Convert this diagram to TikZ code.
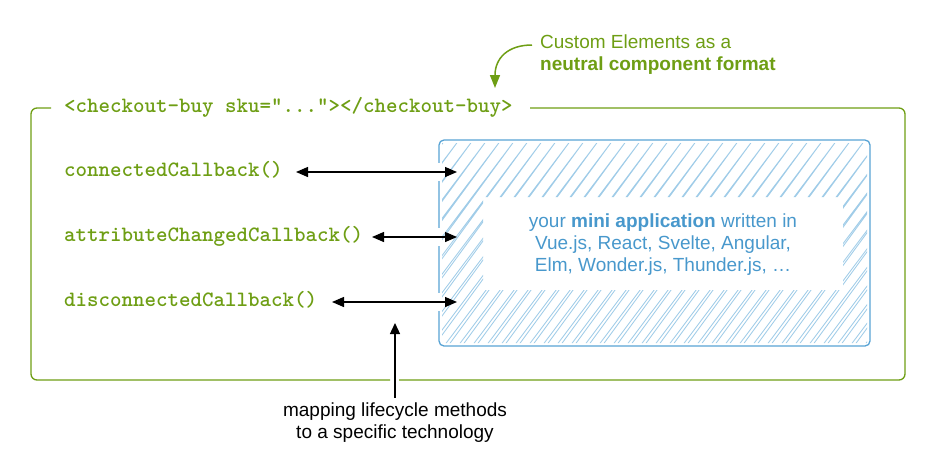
\documentclass[tikz,border=0pt]{standalone}
\usepackage{fontspec}
\setmainfont{Liberation Sans}
\usetikzlibrary{arrows.meta,calc}
\definecolor{cegreen}{RGB}{110,158,20}
\definecolor{appblue}{RGB}{88,163,212}
\definecolor{apptext}{RGB}{72,152,204}
\definecolor{hatchblue}{RGB}{160,204,232}
\tikzset{
  code/.style={font=\ttfamily\bfseries\fontsize{21.9}{24}\selectfont, text=cegreen, inner sep=0pt, anchor=base west},
  sans/.style={font=\fontsize{19}{22}\selectfont, inner sep=0pt},
  frame/.style={draw=cegreen, line width=1.3pt, rounded corners=6pt},
  dbl/.style={draw=black, line width=1.3pt, {Triangle[length=12pt,width=10pt]}-{Triangle[length=12pt,width=10pt]}},
  uparrow/.style={draw=black, line width=1.3pt, -{Triangle[length=11pt,width=10pt]}},
  greenarrow/.style={draw=cegreen, line width=1.5pt, -{Triangle[length=13pt,width=10pt]}},
  hatchline/.style={draw=hatchblue, line width=0.85pt, line join=round},
}
\begin{document}
\begin{tikzpicture}[x=1pt,y=-1pt]
\useasboundingbox (0,0) rectangle (935,475);

% outer custom element frame
\draw[frame] (51,108) -- (31,108) -- (31,380) -- (390,380);
\draw[frame] (399,380) -- (905,380) -- (905,108) -- (530,108);
\node[code] (title) at (64,112.5) {<checkout-buy sku="..."></checkout-buy>};

% annotation top right
\node[sans, text=cegreen, align=left, anchor=west] (ce) at (540,55) {Custom Elements as a\\\textbf{neutral component format}};
\coordinate (ceStart) at (532,45);
\coordinate (ceTip) at (495,88);
\draw[greenarrow] (ceStart) .. controls (508,45) and (495,58) .. (ceTip);

% hatching
\begin{scope}[even odd rule]
  \clip (442,143) rectangle (867,343) (483,197) rectangle (843,290);
  \foreach \x in {290,304,...,880} {
    \draw[hatchline] (\x,346) -- (\x+155,140) -- (\x+4,346);
  }
\end{scope}

% app box
\node[draw=appblue, line width=1.3pt, rounded corners=5pt, minimum width=431pt, minimum height=206pt, inner sep=0pt] (box) at (654.5,243) {};
\node[sans, text=apptext, align=center] (app) at (663,245) {your \textbf{mini application} written in\\Vue.js, React, Svelte, Angular,\\Elm, Wonder.js, Thunder.js, …};

% gaps in the box border where arrows cross
\fill[white] (436,163) rectangle (442,181);
\fill[white] (436,228) rectangle (442,246);
\fill[white] (436,293) rectangle (442,311);

% lifecycle callbacks
\node[code] (cb1) at (64,176.5) {connectedCallback()};
\node[code] (cb2) at (64,241.5) {attributeChangedCallback()};
\node[code] (cb3) at (64,306.5) {disconnectedCallback()};

\coordinate (a1L) at (296,172);
\coordinate (a1R) at (457,172);
\coordinate (a2L) at (372,237);
\coordinate (a2R) at (457,237);
\coordinate (a3L) at (332,302);
\coordinate (a3R) at (457,302);
\draw[dbl] (a1L) -- (a1R);
\draw[dbl] (a2L) -- (a2R);
\draw[dbl] (a3L) -- (a3R);

% mapping annotation
\node[sans, text=black, align=center] (map) at (395,423) {mapping lifecycle methods\\to a specific technology};
\coordinate (mapTip) at (395,323);
\draw[uparrow] ([yshift=5pt]map.north) -- (mapTip);
\end{tikzpicture}
\end{document}
